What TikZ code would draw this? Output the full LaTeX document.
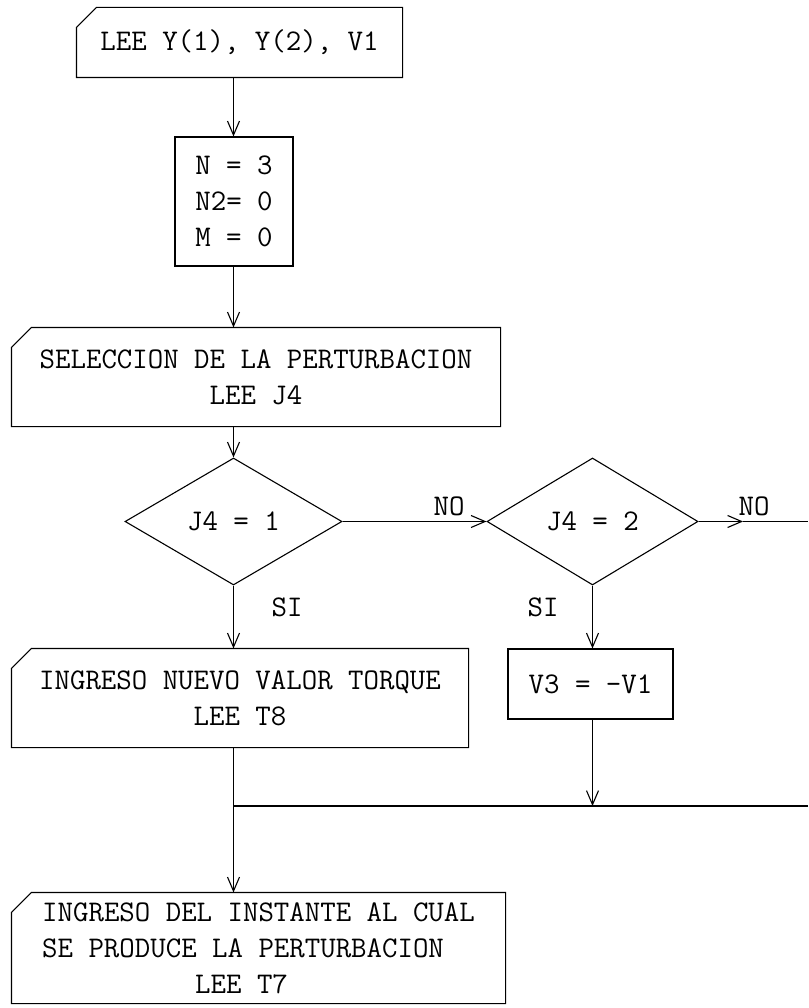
\documentclass[tikz,border=0pt]{standalone}
\usetikzlibrary{shapes.geometric,arrows.meta}
% outline of a manual input box: cut corner at top left
\newcommand{\manualframe}[1]{%
  \draw ([yshift=-20pt]#1.north west) -- ([xshift=20pt]#1.north west) -- (#1.north east)
    -- (#1.south east) -- (#1.south west) -- cycle;}
\begin{document}
\begin{tikzpicture}[x=1pt, y=-1pt, line width=1.1pt,
  font=\fontsize{30}{36}\selectfont\ttfamily,
  box/.style={draw, inner sep=0pt, align=center},
  inbox/.style={inner sep=0pt, align=center},
  test/.style={diamond, draw, inner sep=0pt},
  arr/.style={-{Straight Barb[length=14pt,width=12pt]}}]
\useasboundingbox (0,0) rectangle (808,1008);
% boxes
\node[inbox, minimum width=325pt, minimum height=69pt] (rd1) at (239.5,42.5) {LEE Y(1), Y(2), V1};
\manualframe{rd1}
\node[box, align=left, minimum width=118pt, minimum height=129pt] (init) at (234,201.5) {N = 3\\N2= 0\\M = 0};
\node[inbox, minimum width=488pt, minimum height=98pt] (rdj4) at (256,377) {SELECCION DE LA PERTURBACION\\LEE J4};
\manualframe{rdj4}
\node[test, minimum width=217pt, minimum height=127pt] (q1) at (233.5,521.5) {J4 = 1};
\node[test, minimum width=211pt, minimum height=127pt] (q2) at (592.5,521.5) {J4 = 2};
\node[inbox, minimum width=456pt, minimum height=98pt] (rdt8) at (240,698) {INGRESO NUEVO VALOR TORQUE\\LEE T8};
\manualframe{rdt8}
\node[box, minimum width=165pt, minimum height=70pt] (v3) at (590.5,684) {V3 = -V1};
\node[inbox, align=left, minimum width=493pt, minimum height=110pt] (rdt7) at (258.5,948)
  {INGRESO DEL INSTANTE AL CUAL\\SE PRODUCE LA PERTURBACION\\\hspace*{153pt}LEE T7};
\manualframe{rdt7}
% free ends
\coordinate (noend) at (743,521.5);
\coordinate (noexit) at (808,521.5);
\coordinate (join) at (808,806);
% connectors
\draw[arr] (rd1.south -| q1.north) -- (init.north -| q1.north);
\draw[arr] (init.south -| q1.north) -- (rdj4.north -| q1.north);
\draw[arr] (rdj4.south -| q1.north) -- (q1.north);
\draw[arr] (q1.east) -- (q2.west);
\draw[arr] (q2.east) -- (noend);
\draw (noend) -- (noexit);
\draw[arr] (q1.south) -- (rdt8.north -| q1.south);
\draw[arr] (q2.south) -- (v3.north -| q2.south);
\draw[arr] (v3.south -| q2.south) -- (join -| q2.south);
\draw (join) -- (join -| q1.south);
\draw[arr] (rdt8.south -| q1.south) -- (rdt7.north -| q1.south);
% labels
\node (no1) at (449,506) {NO};
\node (no2) at (754,506) {NO};
\node (si1) at (287,607) {SI};
\node (si2) at (543,607) {SI};
\end{tikzpicture}
\end{document}
